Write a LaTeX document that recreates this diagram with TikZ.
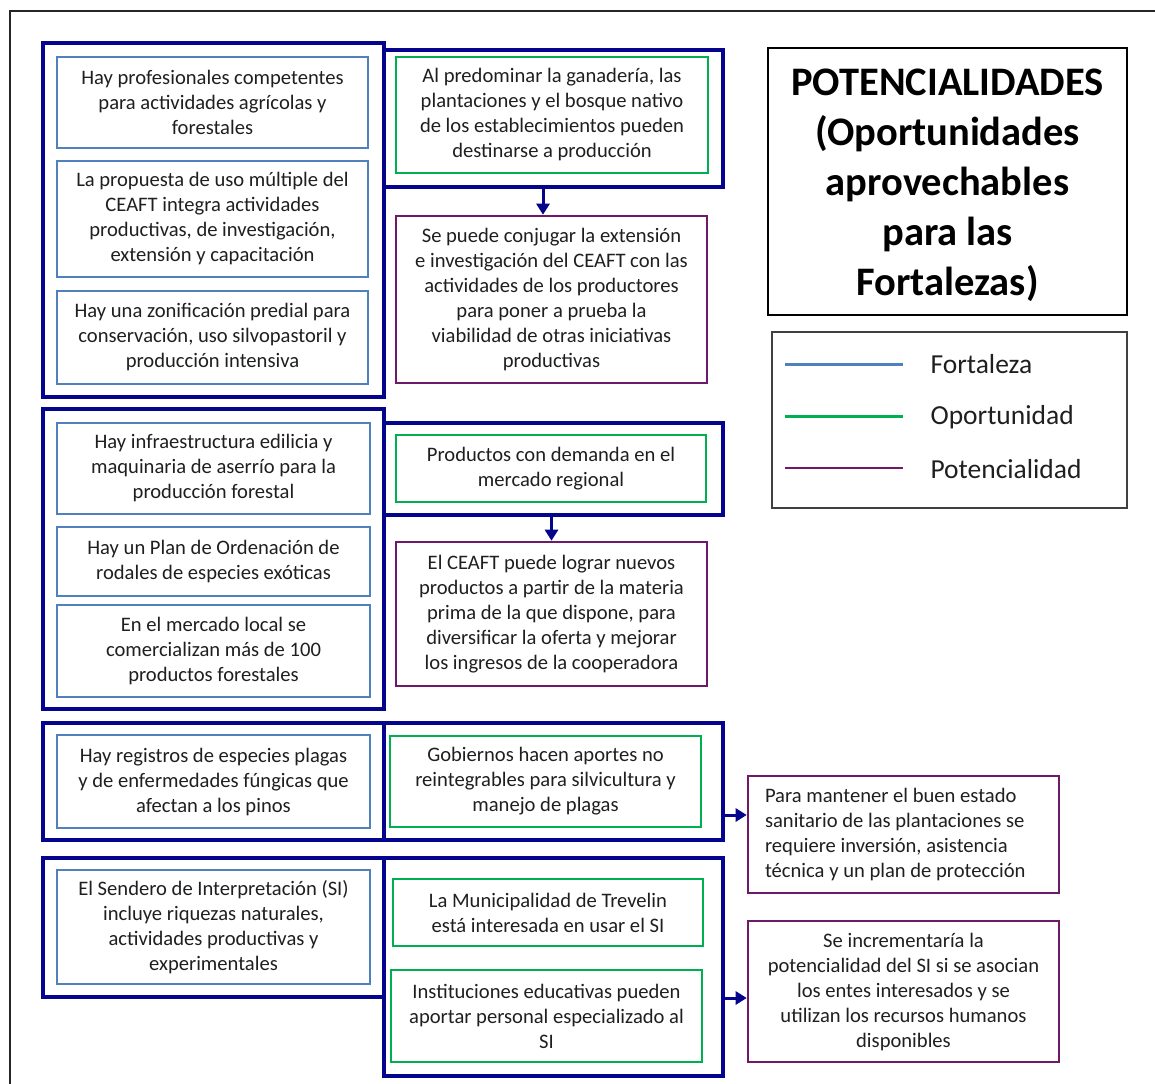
\documentclass[tikz,border=0pt]{standalone}
\usepackage{fontspec}
\setmainfont{Carlito}
\usetikzlibrary{arrows.meta}
\definecolor{navyline}{RGB}{4,4,140}
\definecolor{fblue}{RGB}{79,129,189}
\definecolor{ogreen}{RGB}{0,176,80}
\definecolor{ppurple}{RGB}{110,26,104}
\begin{document}
\begin{tikzpicture}[x=1pt,y=-1pt,text=black!88]

	\tikzstyle{grp}=[draw=navyline,line width=4pt,rectangle,inner sep=0pt]
	\tikzstyle{box}=[rectangle,inner sep=2pt,align=center,font=\fontsize{20.6}{25}\selectfont]
	\tikzstyle{f-box}=[box,draw=fblue,line width=2pt]
	\tikzstyle{o-box}=[box,draw=ogreen,line width=2pt]
	\tikzstyle{p-box}=[box,draw=ppurple,line width=2.6pt]
	\tikzstyle{arr}=[draw=navyline,line width=3pt,-{Triangle[width=13pt,length=11pt]}]
	\tikzstyle{annot}=[anchor=west,font=\fontsize{27.5}{30}\selectfont]

	\clip (0,0) rectangle (1155,1083);
	\draw[black!85,line width=1.5pt] (10,11) rectangle (1180,1100);

	% groups
	\node[grp,minimum width=341,minimum height=354] (g1l) at (213.5,220)   {};
	\node[grp,minimum width=339,minimum height=137] (g1r) at (553.5,118.5) {};
	\node[grp,minimum width=341,minimum height=300] (g2l) at (213.5,559)   {};
	\node[grp,minimum width=339,minimum height=92]  (g2r) at (553.5,469)   {};
	\node[grp,minimum width=341,minimum height=117] (g3l) at (213.5,781.5) {};
	\node[grp,minimum width=339,minimum height=117] (g3r) at (553.5,781.5) {};
	\node[grp,minimum width=341,minimum height=139] (g4l) at (213.5,927.5) {};
	\node[grp,minimum width=339,minimum height=218] (g4r) at (553.5,967)   {};

	% fortalezas
	\node[f-box,minimum width=311,minimum height=91]  (f1) at (212.5,102.5)
		{Hay profesionales competentes\\para actividades agrícolas y\\forestales};
	\node[f-box,minimum width=311,minimum height=116] (f2) at (212.5,219)
		{La propuesta de uso múltiple del\\CEAFT integra actividades\\productivas, de investigación,\\extensión y capacitación};
	\node[f-box,minimum width=311,minimum height=93]  (f3) at (212.5,337.5)
		{Hay una zonificación predial para\\conservación, uso silvopastoril y\\producción intensiva};
	\node[f-box,minimum width=313,minimum height=91]  (f4) at (213.5,468.5)
		{Hay infraestructura edilicia y\\maquinaria de aserrío para la\\producción forestal};
	\node[f-box,minimum width=313,minimum height=69]  (f5) at (213.5,561.5)
		{Hay un Plan de Ordenación de\\rodales de especies exóticas};
	\node[f-box,minimum width=313,minimum height=92]  (f6) at (213.5,651)
		{En el mercado local se\\comercializan más de 100\\productos forestales};
	\node[f-box,minimum width=313,minimum height=93]  (f7) at (213.5,781.5)
		{Hay registros de especies plagas\\y de enfermedades fúngicas que\\afectan a los pinos};
	\node[f-box,minimum width=313,minimum height=114] (f8) at (213.5,927)
		{El Sendero de Interpretación (SI)\\incluye riquezas naturales,\\actividades productivas y\\experimentales};

	% oportunidades
	\node[o-box,minimum width=312,minimum height=116] (o1) at (552,115)
		{Al predominar la ganadería, las\\plantaciones y el bosque nativo\\de los establecimientos pueden\\destinarse a producción};
	\node[o-box,minimum width=310,minimum height=67]  (o2) at (551,468.5)
		{Productos con demanda en el\\mercado regional};
	\node[o-box,minimum width=311,minimum height=91]  (o3) at (545.5,781.5)
		{Gobiernos hacen aportes no\\reintegrables para silvicultura y\\manejo de plagas};
	\node[o-box,minimum width=310,minimum height=67]  (o4) at (548,912.5)
		{La Municipalidad de Trevelin\\está interesada en usar el SI};
	\node[o-box,minimum width=311,minimum height=92]  (o5) at (546.5,1016)
		{Instituciones educativas pueden\\aportar personal especializado al\\SI};

	% potencialidades
	\node[p-box,minimum width=311,minimum height=167] (p1) at (551.5,299.5)
		{Se puede conjugar la extensión\\e investigación del CEAFT con las\\actividades de los productores\\para poner a prueba la\\viabilidad de otras iniciativas\\productivas};
	\node[p-box,minimum width=311,minimum height=144] (p2) at (551.5,614)
		{El CEAFT puede lograr nuevos\\productos a partir de la materia\\prima de la que dispone, para\\diversificar la oferta y mejorar\\los ingresos de la cooperadora};
	\node[p-box,minimum width=311,minimum height=117,align=flush left,text width=277] (p3) at (903.5,834.5)
		{Para mantener el buen estado\\sanitario de las plantaciones se\\requiere inversión, asistencia\\técnica y un plan de protección};
	\node[p-box,minimum width=311,minimum height=141] (p4) at (903.5,991.5)
		{Se incrementaría la\\potencialidad del SI si se asocian\\los entes interesados y se\\utilizan los recursos humanos\\disponibles};

	% arrows
	\draw[arr] ([xshift=-8.5pt]p1.north |- g1r.south) -- ([xshift=-8.5pt]p1.north);
	\draw[arr] (p2.north |- g2r.south) -- (p2.north);
	\draw[arr] ([yshift=19.5pt]p3.west -| g3r.east) -- ([yshift=19.5pt]p3.west);
	\draw[arr] ([yshift=-6.5pt]p4.west -| g4r.east) -- ([yshift=-6.5pt]p4.west);

	% title
	\node[draw=black,line width=2pt,minimum width=359,minimum height=267] (titlebox) at (947.5,181.5) {};
	\node[align=center,font=\fontsize{40.5}{50}\selectfont\bfseries,text=black] (title) at (947.5,185)
		{POTENCIALIDADES\\(Oportunidades\\aprovechables\\para las\\Fortalezas)};

	% legend
	\node[draw=black!75,line width=1.5pt,minimum width=355,minimum height=176] (legend) at (949.5,420) {};
	\node[annot] (lf) at (927,364) {Fortaleza};
	\node[annot] (lo) at (927,417) {Oportunidad};
	\node[annot] (lp) at (927,469) {Potencialidad};
	\draw[fblue,line width=3pt]   (785,364) -- (903,364);
	\draw[ogreen,line width=3pt]  (785,416) -- (903,416);
	\draw[ppurple,line width=2pt] (785,468) -- (903,468);
\end{tikzpicture}
\end{document}
